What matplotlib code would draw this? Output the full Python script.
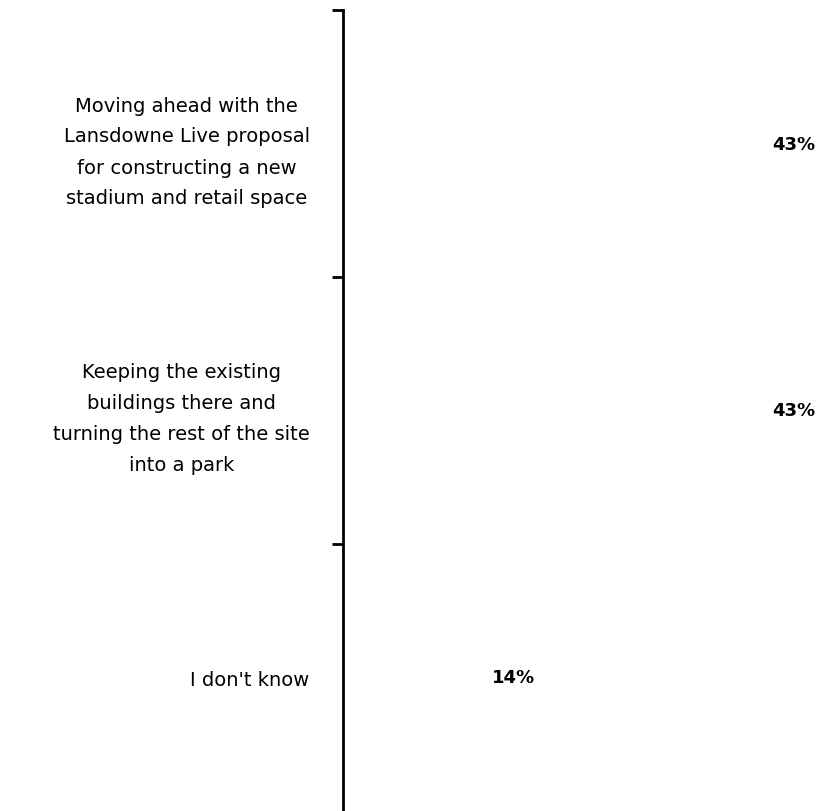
import matplotlib.pyplot as plt
import numpy as np

plt.rcParams["font.family"] = ["Verdana", "DejaVu Sans"]

# data
categories = [
    "Moving ahead with the\nLansdowne Live proposal\nfor constructing a new\nstadium and retail space",
    "Keeping the existing\nbuildings there and\nturning the rest of the site\ninto a park",
    "I don't know",
]
values = [43, 43, 14]
value_labels = ["43%", "43%", "14%"]

fig = plt.figure(figsize=(8.2, 8.12), dpi=100)
ax = fig.add_axes([343 / 820, 0.0, 1 - 343 / 820, 1 - 11 / 812])

y = np.arange(len(categories))
ax.barh(y, values, height=0.6, color="white")
ax.set_ylim(len(categories) - 0.5, -0.5)
ax.set_xlim(0, 49.5)

# value labels
for yi, v, lab in zip(y, values, value_labels):
    ax.text(v + 1.5, yi, lab, ha="left", va="center",
            fontsize=13, fontweight="bold", color="black")

# category labels at centres, tick marks at boundaries
ax.set_yticks(y)
ax.set_yticklabels(categories, fontsize=14, ha="right",
                   multialignment="center", linespacing=1.8)
ax.tick_params(axis="y", which="major", length=0, pad=24)
ax.set_yticks(np.arange(-0.5, len(categories) - 0.5, 1), minor=True)
ax.tick_params(axis="y", which="minor", length=8, width=2, direction="out")

ax.set_xticks([])
for s in ["top", "right", "bottom"]:
    ax.spines[s].set_visible(False)
ax.spines["left"].set_linewidth(2)

fig.savefig("out.png", dpi=100)
